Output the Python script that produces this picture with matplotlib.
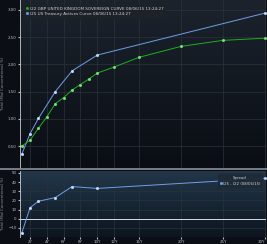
import matplotlib
matplotlib.use("Agg")
import matplotlib.pyplot as plt
import numpy as np

# Data
uk_years = [1, 2, 3, 4, 5, 6, 7, 8, 9, 10, 12, 15, 20, 25, 30]
uk_yield = [0.50, 0.61, 0.83, 1.04, 1.28, 1.39, 1.53, 1.63, 1.73, 1.84, 1.95, 2.13, 2.33, 2.44, 2.48]
us_years = [1, 2, 3, 5, 7, 10, 30]
us_yield = [0.35, 0.73, 1.01, 1.50, 1.88, 2.17, 2.94]
spread_years = [1, 2, 3, 5, 7, 10, 30]
spread_bp = [-16, 12, 19, 23, 35, 33, 44]
x_ticks = [2, 4, 6, 8, 10, 12, 15, 20, 25, 30]
x_labels = ["2Y", "4Y", "6Y", "8Y", "10Y", "12Y", "15Y", "20Y", "25Y", "30Y"]
top_ticks = [0.50, 1.00, 1.50, 2.00, 2.50, 3.00]
bot_ticks = [-10, 0, 10, 20, 30, 40, 50]
uk_label = "I22 GBP UNITED KINGDOM SOVEREIGN CURVE 08/06/15 13:24:27"
us_label = "I25 US Treasury Actives Curve 08/06/15 13:24:27"
spread_label = "I25 - I22 (08/06/15)"

W, H = 267, 244
fig = plt.figure(figsize=(W / 100, H / 100), dpi=100)
fig.patch.set_facecolor("#0b0f15")

L = 20 / W
R = 265.5 / W
ax1 = fig.add_axes([L, 1 - 168 / H, R - L, 168 / H])
ax2 = fig.add_axes([L, 1 - 237 / H, R - L, 66 / H])

xl = (0.8, 30.05)
fs = 2.9
tc = "#b8bcc4"


def gradient(ax, c_top, c_bot):
    c1 = np.array(matplotlib.colors.to_rgb(c_top))
    c2 = np.array(matplotlib.colors.to_rgb(c_bot))
    t = np.linspace(0, 1, 100)[:, None]
    img = (c1 * (1 - t) + c2 * t)[:, None, :]
    ax.imshow(img, extent=[0, 1, 0, 1], transform=ax.transAxes,
              aspect="auto", zorder=0)


for ax in (ax1, ax2):
    ax.set_xlim(*xl)
    for s in ax.spines.values():
        s.set_visible(False)
    ax.spines["left"].set_visible(True)
    ax.spines["left"].set_color("#c8ccd2")
    ax.spines["left"].set_linewidth(0.6)
    ax.set_xticks(x_ticks)
    ax.tick_params(axis="both", colors=tc, labelsize=fs, length=1.5,
                   width=0.8, pad=1)
    ax.grid(True, color="#2c323a", linewidth=0.5)

gradient(ax1, "#1c232d", "#0a0e14")
gradient(ax2, "#22374a", "#0c1520")

# Top panel
ax1.plot(us_years, us_yield, color="#6f9fe8", lw=0.7, marker="s", ms=1.0,
         mfc="#c8dcff", mec="#c8dcff", zorder=3)
ax1.plot(uk_years, uk_yield, color="#1fae1f", lw=0.7, marker="s", ms=1.0,
         mfc="#7ee07e", mec="#7ee07e", zorder=3)
ax1.set_ylim(0.10, 3.18)
ax1.set_yticks(top_ticks)
ax1.set_yticklabels([f"{v:.2f}" for v in top_ticks])
ax1.tick_params(axis="x", labelbottom=False, length=0)
ax1.set_ylabel("Yield (Mid Conventional %)", color="#9098a2", fontsize=fs,
               labelpad=2)

leg = ax1.legend(
    [plt.Line2D([], [], color="#1fae1f", marker="s", ms=1.0, lw=0),
     plt.Line2D([], [], color="#6f9fe8", marker="s", ms=1.0, lw=0)],
    [uk_label, us_label], loc="upper left", bbox_to_anchor=(0.005, 0.985),
    fontsize=3.0, frameon=True, facecolor="#1e2228", edgecolor="#1e2228",
    framealpha=0.95, handlelength=0.6, handletextpad=0.4, borderpad=0.5,
    labelspacing=0.3)
for t in leg.get_texts():
    t.set_color("#d0d4da")

# Bottom panel
ax2.plot(spread_years, spread_bp, color="#6f9fe8", lw=0.7, marker="s", ms=1.0,
         mfc="#c8dcff", mec="#c8dcff", zorder=3)
ax2.axhline(0, color="#d8dce0", lw=0.7, zorder=2)
ax2.set_ylim(-20, 52)
ax2.set_yticks(bot_ticks)
ax2.set_xticklabels(x_labels)
ax2.get_xticklabels()[-1].set_ha("right")
ax2.set_ylabel("Yield (Mid Conventional %)", color="#9098a2", fontsize=fs,
               labelpad=2)
leg2 = ax2.legend(
    [plt.Line2D([], [], color="#6f9fe8", marker="s", ms=1.0, lw=0)],
    [spread_label], title="Spread", loc="upper right",
    bbox_to_anchor=(0.995, 0.98), fontsize=2.8, title_fontsize=2.8,
    frameon=True, facecolor="#1e2a36", edgecolor="#1e2a36", framealpha=0.95,
    handlelength=0.6, handletextpad=0.4, borderpad=0.4)
for t in leg2.get_texts():
    t.set_color("#d0d4da")
leg2.get_title().set_color("#d0d4da")

# Separator between panels
fig.add_artist(plt.Line2D([0, 1], [1 - 169 / H, 1 - 169 / H],
                          color="#8a9098", lw=1.2))

fig.savefig("out.png", dpi=100, facecolor=fig.get_facecolor())
